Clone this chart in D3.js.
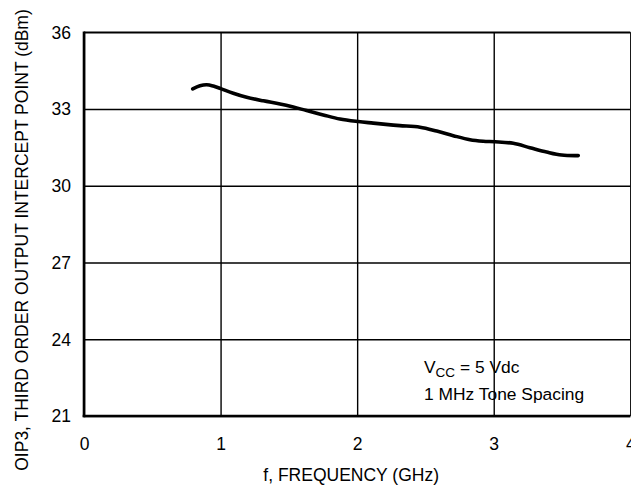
<!DOCTYPE html>
<html>
<head>
<meta charset="utf-8">
<script src="https://cdn.jsdelivr.net/npm/d3@7"></script>
<style>
  html, body { margin: 0; padding: 0; background: #fff; }
  svg { display: block; }
  text { font-family: "Liberation Sans", Arial, sans-serif; fill: #000; }
</style>
</head>
<body>
<svg id="chart" width="631" height="487"></svg>
<script>
// Data (frequency in GHz, OIP3 in dBm)
const freqGHz = [0.796, 0.849, 0.898, 0.947, 1.001, 1.093, 1.191, 1.313, 1.435, 1.532, 1.630, 1.752, 1.874, 2.008, 2.118, 2.228, 2.313, 2.460, 2.582, 2.704, 2.826, 2.923, 3.009, 3.143, 3.265, 3.387, 3.497, 3.619];
const oip3dBm = [33.79, 33.91, 33.95, 33.90, 33.80, 33.62, 33.46, 33.32, 33.20, 33.08, 32.94, 32.77, 32.61, 32.51, 32.45, 32.39, 32.35, 32.29, 32.14, 31.96, 31.80, 31.74, 31.72, 31.66, 31.49, 31.32, 31.20, 31.18];
const xTicks = [0, 1, 2, 3, 4];
const yTicks = [21, 24, 27, 30, 33, 36];
const xTitle = "f, FREQUENCY (GHz)";
const yTitle = "OIP3, THIRD ORDER OUTPUT INTERCEPT POINT (dBm)";
const noteLine1 = ["V", "CC", " = 5 Vdc"];
const noteLine2 = "1 MHz Tone Spacing";

const svg = d3.select("#chart");
const mLeft = 84, mRight = 630.3, mTop = 32.3, mBottom = 416;
const x = d3.scaleLinear().domain([0, 4]).range([mLeft, mRight]);
const y = d3.scaleLinear().domain([21, 36]).range([mBottom, mTop]);
const FS = 17.5;
const FF = '"Liberation Sans", Arial, sans-serif';

// vertical grid
svg.append("g")
  .attr("transform", `translate(0,${mBottom})`)
  .call(d3.axisBottom(x).tickValues(xTicks).tickSize(-(mBottom - mTop)).tickFormat(""))
  .call(g => g.select(".domain").remove())
  .call(g => g.selectAll("line").attr("stroke", "#000").attr("stroke-width", 1.4));

// horizontal grid
svg.append("g")
  .attr("transform", `translate(${mLeft},0)`)
  .call(d3.axisLeft(y).tickValues(yTicks).tickSize(-(mRight - mLeft)).tickFormat(""))
  .call(g => g.select(".domain").remove())
  .call(g => g.selectAll("line").attr("stroke", "#000").attr("stroke-width", 1.4));

// top border
svg.append("line").attr("x1", x(0)).attr("x2", x(4)).attr("y1", y(36)).attr("y2", y(36))
  .attr("stroke", "#000").attr("stroke-width", 1.6);
// thick left and bottom axes
svg.append("line").attr("x1", x(0)).attr("x2", x(0)).attr("y1", y(36) - 0.8).attr("y2", y(21) + 1.3)
  .attr("stroke", "#000").attr("stroke-width", 2.6);
svg.append("line").attr("x1", x(0) - 1.3).attr("x2", x(4)).attr("y1", y(21)).attr("y2", y(21))
  .attr("stroke", "#000").attr("stroke-width", 2.6);

// tick labels
svg.append("g")
  .attr("transform", `translate(0,${mBottom})`)
  .call(d3.axisBottom(x).tickValues(xTicks).tickSize(0).tickPadding(0).tickFormat(d3.format("d")))
  .call(g => g.select(".domain").remove())
  .call(g => g.selectAll("text")
    .attr("y", 33.5).attr("dy", 0)
    .style("font-size", FS + "px").style("font-family", FF)
    .attr("fill", "#000"));

svg.append("g")
  .attr("transform", "translate(71,0)")
  .call(d3.axisLeft(y).tickValues(yTicks).tickSize(0).tickPadding(0).tickFormat(d3.format("d")))
  .call(g => g.select(".domain").remove())
  .call(g => g.selectAll("text")
    .attr("x", 0).attr("dy", "0.33em")
    .style("font-size", FS + "px").style("font-family", FF)
    .attr("fill", "#000"));

// axis titles
svg.append("text")
  .attr("x", (x(0) + x(4)) / 2 - 6).attr("y", 481)
  .attr("text-anchor", "middle")
  .style("font-size", FS + "px")
  .text(xTitle);

svg.append("text")
  .attr("transform", `translate(28,240) rotate(-90)`)
  .attr("text-anchor", "middle")
  .style("font-size", FS + "px")
  .text(yTitle);

// annotation
const n1 = svg.append("text").attr("x", 424).attr("y", 373).style("font-size", "17.4px");
n1.append("tspan").text(noteLine1[0]);
n1.append("tspan").attr("dy", 4).style("font-size", "13.5px").text(noteLine1[1]);
n1.append("tspan").attr("dy", -4).text(noteLine1[2]);
svg.append("text").attr("x", 424).attr("y", 400).style("font-size", "17.4px").text(noteLine2);

// curve
const line = d3.line()
  .x((d, i) => x(freqGHz[i]))
  .y((d, i) => y(oip3dBm[i]))
  .curve(d3.curveCatmullRom.alpha(0.5));
svg.append("path")
  .datum(oip3dBm)
  .attr("d", line)
  .attr("fill", "none")
  .attr("stroke", "#000")
  .attr("stroke-width", 3.6)
  .attr("stroke-linecap", "round")
  .attr("stroke-linejoin", "round");
</script>
</body>
</html>
